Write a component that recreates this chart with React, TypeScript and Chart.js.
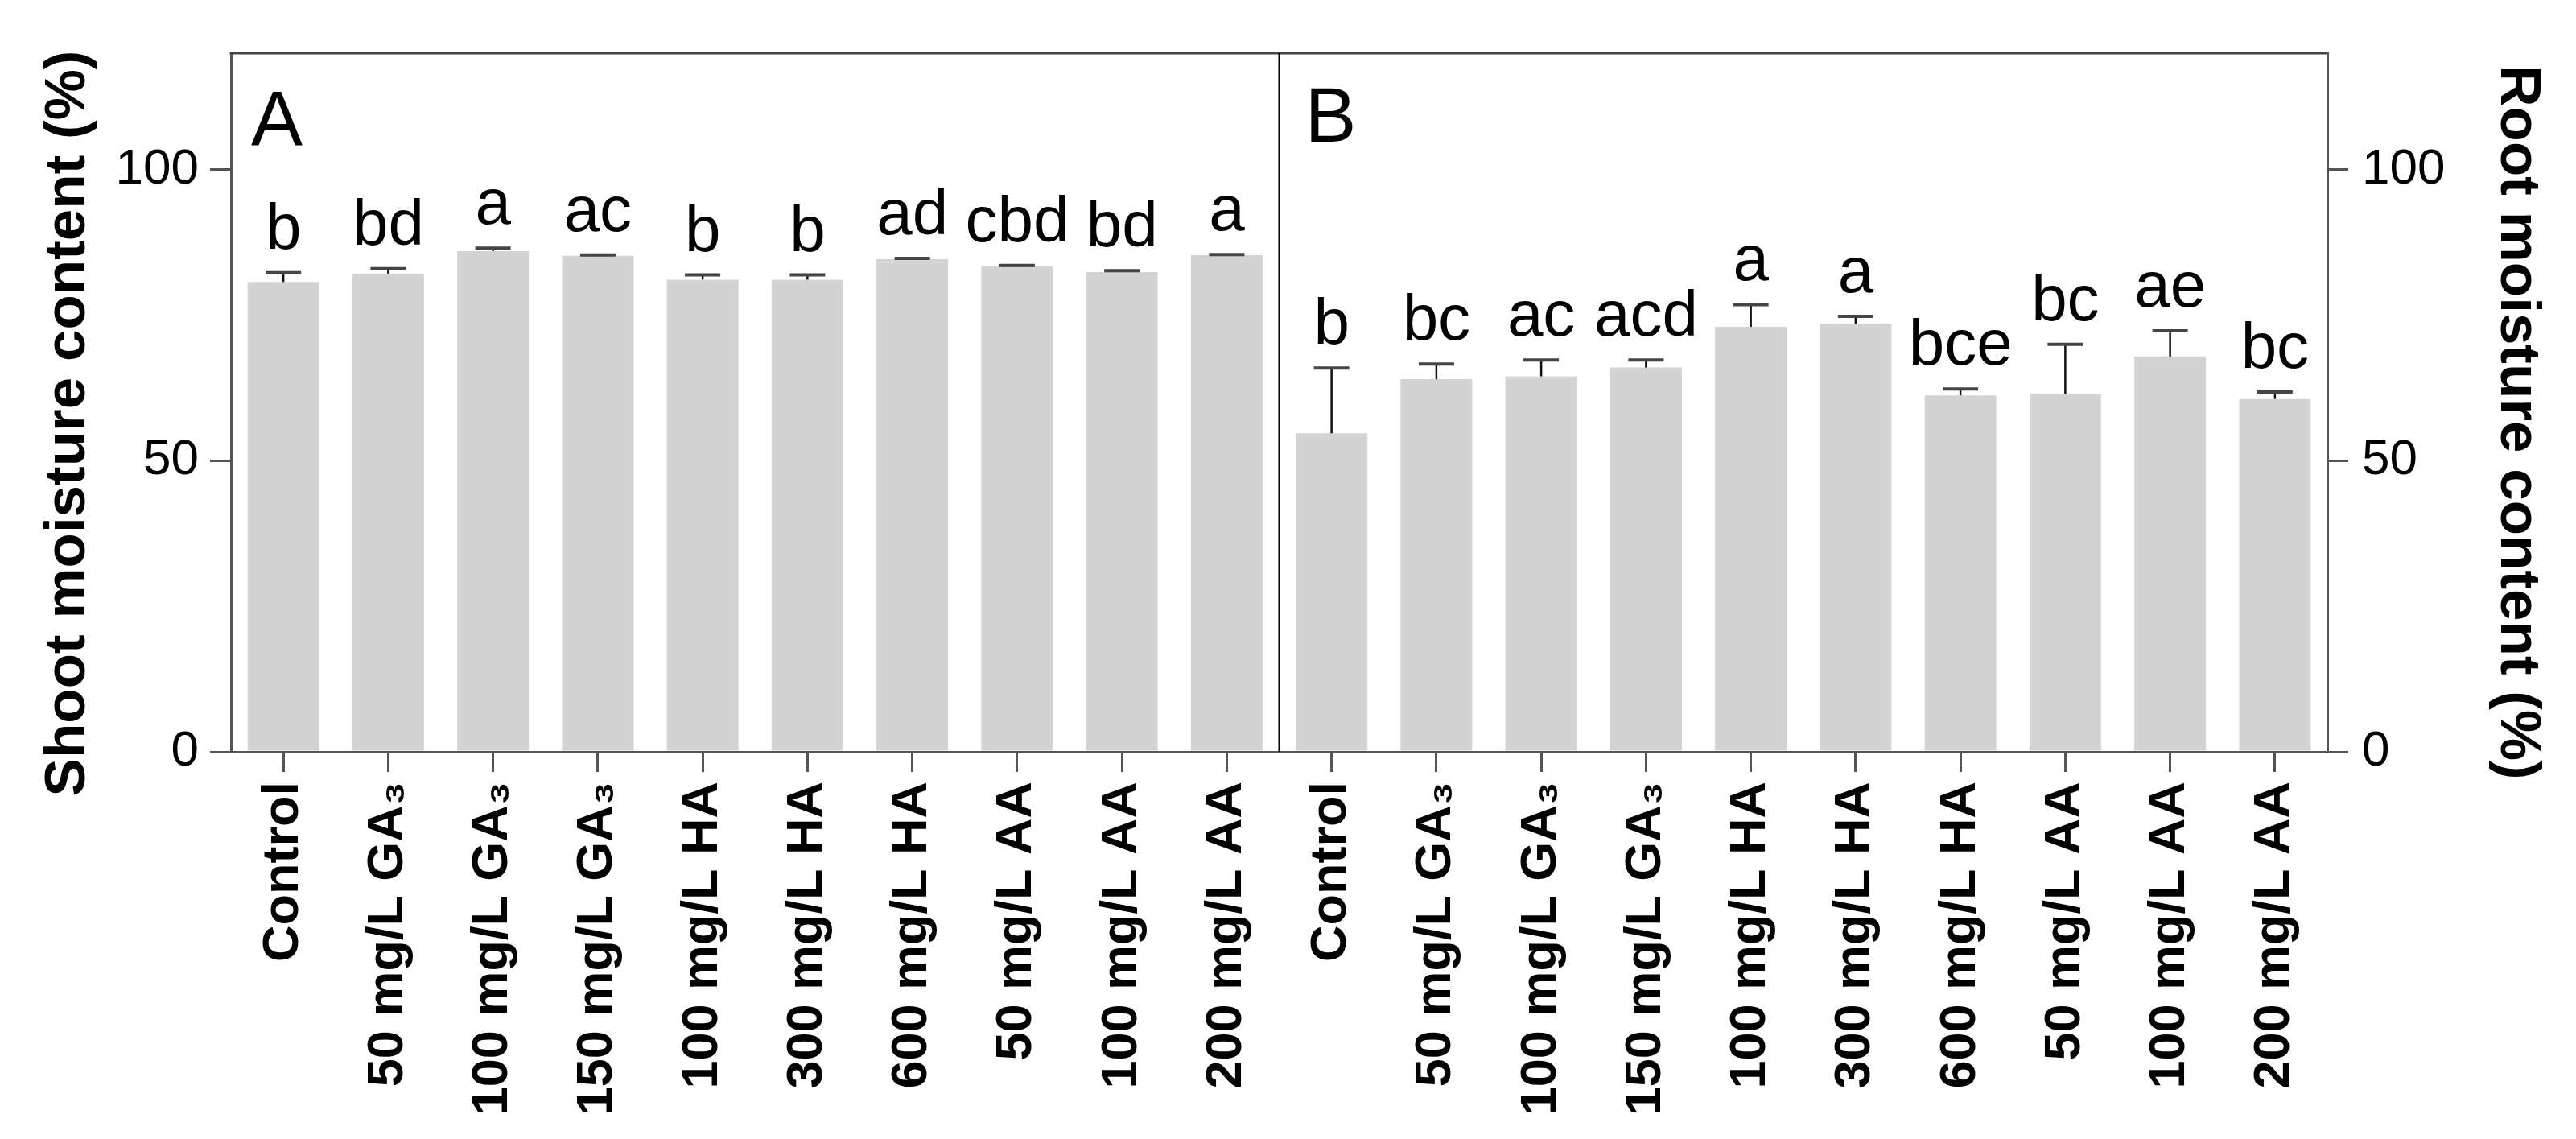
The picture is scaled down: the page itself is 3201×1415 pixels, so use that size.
import { useEffect, useRef } from 'react';
import { Chart, registerables } from 'chart.js';

Chart.register(...registerables);

const treatments = [
  'Control',
  '50 mg/L GA₃',
  '100 mg/L GA₃',
  '150 mg/L GA₃',
  '100 mg/L HA',
  '300 mg/L HA',
  '600 mg/L HA',
  '50 mg/L AA',
  '100 mg/L AA',
  '200 mg/L AA',
];
const shootMoisture = [80.7, 82.1, 86.0, 85.2, 81.1, 81.1, 84.6, 83.4, 82.4, 85.3];
const shootError = [1.6, 0.9, 0.5, 0.15, 0.8, 0.8, 0.15, 0.15, 0.25, 0.1];
const shootLetters = ['b', 'bd', 'a', 'ac', 'b', 'b', 'ad', 'cbd', 'bd', 'a'];
const rootMoisture = [54.7, 64.0, 64.5, 66.0, 73.0, 73.5, 61.2, 61.5, 67.9, 60.6];
const rootError = [11.2, 2.6, 2.8, 1.3, 3.8, 1.3, 1.1, 8.5, 4.4, 1.2];
const rootLetters = ['b', 'bc', 'ac', 'acd', 'a', 'a', 'bce', 'bc', 'ae', 'bc'];
const yTicks = [0, 50, 100];
const panelLabels = ['A', 'B'];
const leftTitle = 'Shoot moisture content (%)';
const rightTitle = 'Root moisture content (%)';

const FONT = '"Liberation Sans", Arial, Helvetica, sans-serif';
const W = 3201;
const H = 1415;

const annotatePlugin = {
  id: 'annotate',
  afterDatasetsDraw(chart: any) {
    const ctx = chart.ctx as CanvasRenderingContext2D;
    const { left, right, top, bottom } = chart.chartArea;
    const xs = chart.scales.x;
    const groups = [
      { vals: shootMoisture, errs: shootError, letters: shootLetters, scale: chart.scales.y, offset: 0 },
      { vals: rootMoisture, errs: rootError, letters: rootLetters, scale: chart.scales.y2, offset: treatments.length },
    ];
    ctx.save();
    for (const g of groups) {
      g.vals.forEach((v, i) => {
        const cx = xs.getPixelForValue(i + g.offset);
        const yBar = g.scale.getPixelForValue(v);
        const yErr = g.scale.getPixelForValue(v + g.errs[i]);
        // stem
        ctx.strokeStyle = '#111';
        ctx.lineWidth = 2.5;
        ctx.beginPath();
        ctx.moveTo(cx, yBar);
        ctx.lineTo(cx, yErr);
        ctx.stroke();
        // cap
        ctx.strokeStyle = '#444';
        ctx.lineWidth = 4;
        ctx.beginPath();
        ctx.moveTo(cx - 22, yErr);
        ctx.lineTo(cx + 22, yErr);
        ctx.stroke();
        // letters
        ctx.fillStyle = '#000';
        ctx.font = `80px ${FONT}`;
        ctx.textAlign = 'center';
        ctx.textBaseline = 'alphabetic';
        ctx.fillText(g.letters[i], cx, yErr - 30);
      });
    }
    // frame: top line, divider
    ctx.strokeStyle = '#444';
    ctx.lineWidth = 3;
    ctx.beginPath();
    ctx.moveTo(left - 1.5, top);
    ctx.lineTo(right + 1.5, top);
    ctx.stroke();
    const divX = (xs.getPixelForValue(treatments.length - 1) + xs.getPixelForValue(treatments.length)) / 2;
    ctx.strokeStyle = '#000';
    ctx.lineWidth = 2;
    ctx.beginPath();
    ctx.moveTo(divX, top);
    ctx.lineTo(divX, bottom);
    ctx.stroke();
    // panel labels
    ctx.fillStyle = '#000';
    ctx.font = `96px ${FONT}`;
    ctx.textAlign = 'left';
    ctx.textBaseline = 'alphabetic';
    ctx.fillText(panelLabels[0], left + 25, 180);
    ctx.fillText(panelLabels[1], divX + 32, 176);
    // axis titles
    ctx.font = `bold 71px ${FONT}`;
    ctx.textAlign = 'center';
    ctx.textBaseline = 'middle';
    ctx.save();
    ctx.translate(85, 526);
    ctx.rotate(-Math.PI / 2);
    ctx.fillText(leftTitle, 0, 0);
    ctx.restore();
    ctx.save();
    ctx.translate(3128, 525);
    ctx.rotate(Math.PI / 2);
    ctx.fillText(rightTitle, 0, 0);
    ctx.restore();
    ctx.restore();
  },
};

export default function App() {
  const ref = useRef<HTMLCanvasElement | null>(null);

  useEffect(() => {
    if (!ref.current) return;
    const n = treatments.length;
    const empty = treatments.map(() => null);
    const labels = [...treatments, ...treatments];
    const tickFont = { family: FONT, size: 62 };
    const yAxis = (position: 'left' | 'right', width: number, pad: number) => ({
      type: 'linear' as const,
      position,
      min: 0,
      max: 120,
      afterBuildTicks: (s: any) => {
        s.ticks = yTicks.map((v) => ({ value: v }));
      },
      afterFit: (s: any) => {
        s.width = width;
      },
      grid: {
        drawOnChartArea: false,
        drawTicks: true,
        tickLength: 26,
        color: '#555',
        lineWidth: 3,
      },
      border: { display: true, color: '#555', width: 3 },
      ticks: { color: '#000', font: tickFont, padding: pad },
    });

    const chart = new Chart(ref.current, {
      type: 'bar',
      data: {
        labels,
        datasets: [
          {
            label: 'Shoot',
            data: [...shootMoisture, ...empty],
            yAxisID: 'y',
            backgroundColor: '#d3d3d3',
            borderWidth: 0,
            grouped: false,
            barPercentage: 0.683,
            categoryPercentage: 1,
          },
          {
            label: 'Root',
            data: [...empty, ...rootMoisture],
            yAxisID: 'y2',
            backgroundColor: '#d3d3d3',
            borderWidth: 0,
            grouped: false,
            barPercentage: 0.683,
            categoryPercentage: 1,
          },
        ] as any,
      },
      options: {
        responsive: false,
        animation: false,
        layout: { padding: { top: 66, left: 0, right: 0, bottom: 0 } },
        plugins: {
          legend: { display: false },
          tooltip: { enabled: false },
          title: { display: false },
        },
        scales: {
          x: {
            type: 'category',
            offset: true,
            afterFit: (s: any) => {
              s.height = H - 934;
            },
            grid: {
              offset: false,
              drawOnChartArea: false,
              drawTicks: true,
              tickLength: 25,
              color: '#555',
              lineWidth: 3,
            },
            border: { display: true, color: '#555', width: 3 },
            ticks: {
              autoSkip: false,
              minRotation: 90,
              maxRotation: 90,
              padding: 12,
              color: '#000',
              font: { family: FONT, size: 63, weight: 'bold' },
            },
          },
          y: yAxis('left', 287, 14),
          y2: yAxis('right', W - 2892, 17),
        } as any,
      },
      plugins: [annotatePlugin],
    });
    void n;
    return () => chart.destroy();
  }, []);

  return (
    <div style={{ position: 'fixed', left: 0, top: 0, width: W, height: H, background: '#fff' }}>
      <canvas ref={ref} width={W} height={H} style={{ width: W, height: H, display: 'block' }} />
    </div>
  );
}
